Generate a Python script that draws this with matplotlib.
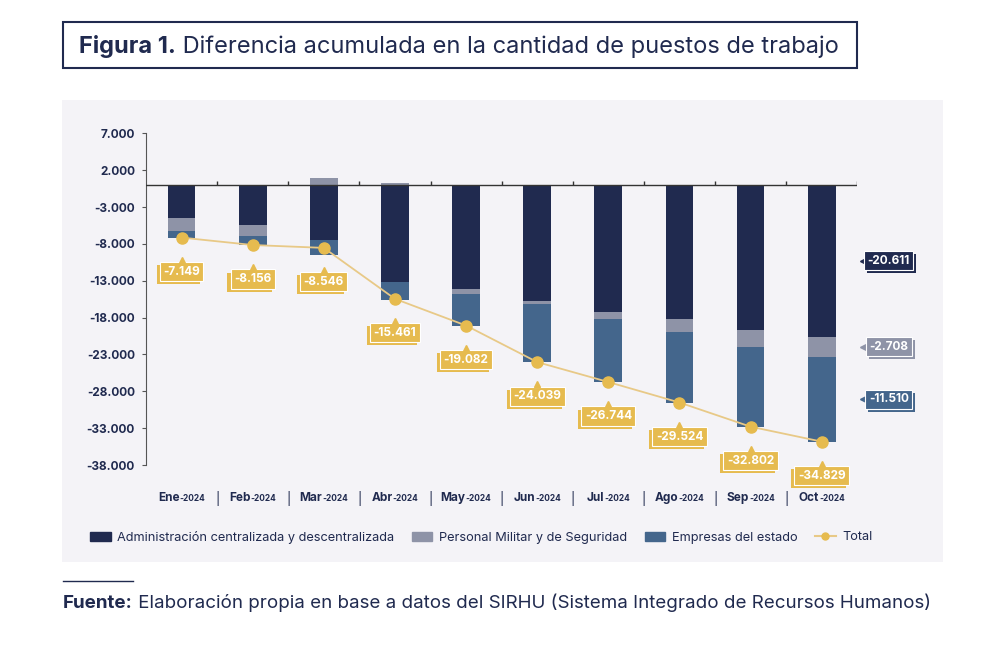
import matplotlib
matplotlib.use('Agg')
import matplotlib.pyplot as plt
import matplotlib.patheffects as pe
from matplotlib.patches import Rectangle, Patch
from matplotlib.lines import Line2D
from matplotlib.transforms import offset_copy, blended_transform_factory
from matplotlib.offsetbox import TextArea, HPacker, AnnotationBbox
from matplotlib.ticker import FuncFormatter

plt.rcParams['font.family'] = ['Inter', 'DejaVu Sans']

# datos (diferencia acumulada de puestos de trabajo)
meses = ['Ene', 'Feb', 'Mar', 'Abr', 'May', 'Jun', 'Jul', 'Ago', 'Sep', 'Oct']
anio = '-2024'
admin = [-4550, -5500, -7450, -13200, -14150, -15700, -17200, -18250, -19650, -20611]
militar = [-1650, -1400, 1000, 200, -600, -400, -1000, -1700, -2350, -2708]
empresas = [-949, -1256, -2096, -2461, -4332, -7939, -8544, -9574, -10802, -11510]
total = [-7149, -8156, -8546, -15461, -19082, -24039, -26744, -29524, -32802, -34829]
yticks = [7000, 2000, -3000, -8000, -13000, -18000, -23000, -28000, -33000, -38000]

navy = '#202a4f'
gris = '#8e93a7'
azul = '#44668c'
oro = '#e6bb4f'
linea = '#e8c987'
panel = '#f4f3f7'


def fmt(v):
    return f'{int(v):,}'.replace(',', '.')


def etiqueta(xy, texto, color, dx, dy, sombra):
    # caja con "tarjeta" detras (sombra desplazada)
    t = ax.annotate(texto, xy=xy, xytext=(dx, dy), textcoords='offset pixels',
                    ha='center', va='center', fontsize=8.5, weight='bold', color='white',
                    zorder=5, annotation_clip=False,
                    bbox=dict(boxstyle='square,pad=0.3', fc=color, ec='white', lw=0.8))
    t.get_bbox_patch().set_path_effects([
        pe.SimplePatchShadow(offset=sombra, shadow_rgbFace=color, alpha=1),
        pe.Normal()])
    return t


fig = plt.figure(figsize=(9.92, 6.61), dpi=100)
fig.patches.append(Rectangle((62 / 992, 1 - 562 / 661), 881 / 992, 462 / 661,
                             transform=fig.transFigure, fc=panel, ec='none', zorder=-2))
fig.patches.append(Rectangle((63 / 992, 1 - 68 / 661), 794 / 992, 46 / 661,
                             transform=fig.transFigure, fc='white', ec=navy, lw=1.5, zorder=-2))

ax = fig.add_axes([146 / 992, 1 - 465 / 661, 711.3 / 992, 331.7 / 661])
ax.patch.set_visible(False)

x = list(range(len(meses)))
w = 0.39
bot_mil = [a if m < 0 else 0 for a, m in zip(admin, militar)]
bot_emp = [a + min(m, 0) for a, m in zip(admin, militar)]
ax.bar(x, admin, w, color=navy, zorder=2)
ax.bar(x, militar, w, bottom=bot_mil, color=gris, zorder=2)
ax.bar(x, empresas, w, bottom=bot_emp, color=azul, zorder=2)

ax.plot(x, total, color=linea, lw=1.3, zorder=3)
ax.plot(x, total, 'o', color=oro, ms=8, zorder=4)

# etiquetas del total
tri = offset_copy(ax.transData, fig=fig, x=0, y=-22, units='dots')
for i, v in enumerate(total):
    etiqueta((i, v), fmt(v), oro, 0, -34, (-2.2, -2.2))
    ax.plot(i, v, marker='^', color=oro, ms=4.5, transform=tri, clip_on=False, zorder=5)

# etiquetas de octubre a la derecha
last = len(meses) - 1
mids = [admin[last] / 2,
        admin[last] + militar[last] / 2,
        admin[last] + militar[last] + empresas[last] / 2]
vals = [admin[last], militar[last], empresas[last]]
cols = [navy, gris, azul]
tri_r = offset_copy(ax.transData, fig=fig, x=41, y=0, units='dots')
for m, v, c in zip(mids, vals, cols):
    etiqueta((last, m), fmt(v), c, 67, 0, (2.2, -2.2))
    ax.plot(last, m, marker='<', color=c, ms=5, transform=tri_r, clip_on=False)

# ejes
ax.set_xlim(-0.5, 9.5)
ax.set_ylim(-38000, 7000)
ax.axhline(0, color='#333333', lw=1, zorder=3)
ax.vlines([i + 0.5 for i in x], 0, 550, color='#333333', lw=1, zorder=3)
for s in ['top', 'right', 'bottom']:
    ax.spines[s].set_visible(False)
ax.spines['left'].set_color('#555555')
ax.spines['left'].set_bounds(-38000, 7000)
ax.set_yticks(yticks)
ax.yaxis.set_major_formatter(FuncFormatter(lambda v, _: fmt(v)))
ax.tick_params(axis='y', length=3, pad=5, labelsize=8.5, labelcolor=navy, color='#555555')
for t in ax.get_yticklabels():
    t.set_fontweight('bold')
ax.set_xticks([])

trans = blended_transform_factory(ax.transData, ax.transAxes)
for i, mes in enumerate(meses):
    a = TextArea(mes, textprops=dict(fontsize=8.5, weight='bold', color=navy))
    b = TextArea(anio, textprops=dict(fontsize=6, weight='bold', color=navy))
    pack = HPacker(children=[a, b], align='baseline', pad=0, sep=0)
    ax.add_artist(AnnotationBbox(pack, (i, -0.1), xycoords=trans, frameon=False,
                                 annotation_clip=False))
    if i < last:
        ax.text(i + 0.5, -0.1, '|', transform=trans, ha='center', va='center',
                fontsize=9, color=navy)

# leyenda
handles = [Patch(color=navy, label='Administración centralizada y descentralizada'),
           Patch(color=gris, label='Personal Militar y de Seguridad'),
           Patch(color=azul, label='Empresas del estado'),
           Line2D([], [], color=linea, marker='o', mfc=oro, mec=oro, ms=5, label='Total')]
fig.legend(handles=handles, loc='center', bbox_to_anchor=(0.485, 1 - 537 / 661), ncol=4,
           frameon=False, fontsize=9.2, labelcolor=navy, handlelength=1.6, handleheight=0.7,
           columnspacing=1.4, handletextpad=0.5)

# titulo
t1 = TextArea('Figura 1.', textprops=dict(fontsize=17, weight='bold', color=navy))
t2 = TextArea(' Diferencia acumulada en la cantidad de puestos de trabajo',
              textprops=dict(fontsize=17, color=navy))
ax.add_artist(AnnotationBbox(HPacker(children=[t1, t2], align='baseline', pad=0, sep=0),
                             (459 / 992, 1 - 46 / 661), xycoords='figure fraction',
                             frameon=False, annotation_clip=False))

# fuente
fig.add_artist(Line2D([63 / 992, 133 / 992], [1 - 581 / 661] * 2, color=navy, lw=1))
f1 = TextArea('Fuente:', textprops=dict(fontsize=13.5, weight='bold', color=navy))
f2 = TextArea(' Elaboración propia en base a datos del SIRHU (Sistema Integrado de Recursos Humanos)',
              textprops=dict(fontsize=13.5, color=navy))
ax.add_artist(AnnotationBbox(HPacker(children=[f1, f2], align='baseline', pad=0, sep=0),
                             (63 / 992, 1 - 603 / 661), xycoords='figure fraction',
                             box_alignment=(0, 0.5), frameon=False, annotation_clip=False))

fig.savefig('out.png', dpi=100)
